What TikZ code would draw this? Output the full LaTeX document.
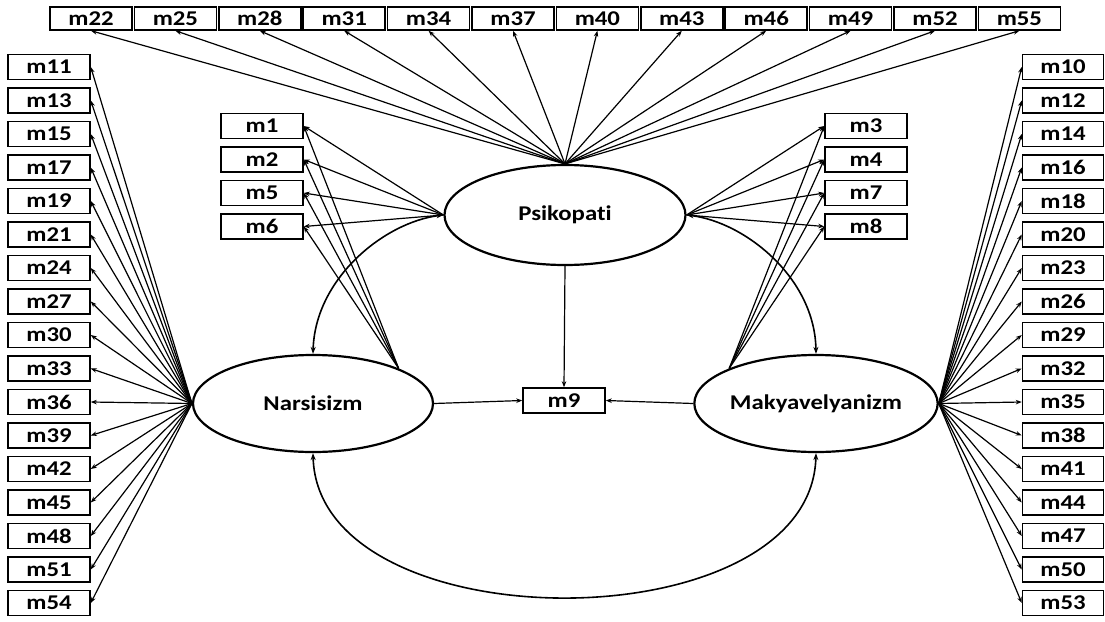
\documentclass[tikz,border=0pt]{standalone}
\usepackage{fontspec}
\newfontfamily\lblfont{Carlito Bold}[FakeStretch=1.18,RawFeature={-liga}]
\usetikzlibrary{shapes.geometric,arrows.meta}
\begin{document}
\begin{tikzpicture}[x=1pt,y=-1pt,
  obs/.style={draw, line width=1.5pt, minimum width=82pt, minimum height=24pt, inner sep=0pt, font=\fontsize{21}{23}\lblfont},
  lat/.style={ellipse, draw, line width=2.2pt, inner sep=0pt, font=\fontsize{21}{23}\lblfont},
  ar/.style={-{Stealth[length=6pt,width=4.5pt]}, line width=1.2pt},
  dar/.style={{Stealth[length=7pt,width=5pt]}-{Stealth[length=7pt,width=5pt]}, line width=1.6pt}]
\useasboundingbox (0,0) rectangle (1105,621);

% latent variables
\node[lat, minimum width=241pt, minimum height=100pt] (P) at (565,215) {Psikopati};
\node[lat, minimum width=240pt, minimum height=97pt] (N) at (313,403.5) {Narsisizm};
\node[lat, minimum width=242pt, minimum height=97pt] (M) at (816,403.5) {Makyavelyanizm};
\node[obs, minimum height=25pt] (m9) at (564,400.5) {m9};

% top row
\foreach \n [count=\i from 0] in {22,25,28,31,34,37,40,43,46,49,52,55} {
  \node[obs, minimum height=23pt] (t\n) at ({91+84.4*\i},18.5) {m\n};
  \draw[ar] (P.north) -- (t\n.south);
}

% left column
\foreach \n [count=\i from 0] in {11,13,15,17,19,21,24,27,30,33,36,39,42,45,48,51,54} {
  \node[obs, minimum height=25pt] (l\n) at (49,{67+33.5*\i}) {m\n};
  \draw[ar] (N.west) -- (l\n.east);
}

% right column
\foreach \n [count=\i from 0] in {10,12,14,16,18,20,23,26,29,32,35,38,41,44,47,50,53} {
  \node[obs, minimum height=25pt, minimum width=81pt] (r\n) at (1063,{67+33.5*\i}) {m\n};
  \draw[ar] (M.east) -- (r\n.west);
}

% small left boxes
\foreach \n [count=\i from 0] in {1,2,5,6} {
  \node[obs, minimum height=25pt] (s\n) at (262,{126+33.5*\i}) {m\n};
  \draw[ar] (P.west) -- (s\n.east);
  \draw[ar] (N.north east) -- (s\n.east);
}

% small right boxes
\foreach \n [count=\i from 0] in {3,4,7,8} {
  \node[obs, minimum height=25pt] (s\n) at (866,{126+33.5*\i}) {m\n};
  \draw[ar] (P.east) -- (s\n.west);
  \draw[ar] (M.north west) -- (s\n.west);
}

% paths to m9
\draw[ar] (P.south) -- (m9.north);
\draw[ar] (N.east) -- (m9.west);
\draw[ar] (M.west) -- (m9.east);

% covariances
\draw[dar] (P.west) .. controls (385,222) and (315,278) .. (N.north);
\draw[dar] (P.east) .. controls (745,222) and (815,278) .. (M.north);
\draw[dar] (N.south) .. controls (318,645) and (811,645) .. (M.south);
\end{tikzpicture}
\end{document}
